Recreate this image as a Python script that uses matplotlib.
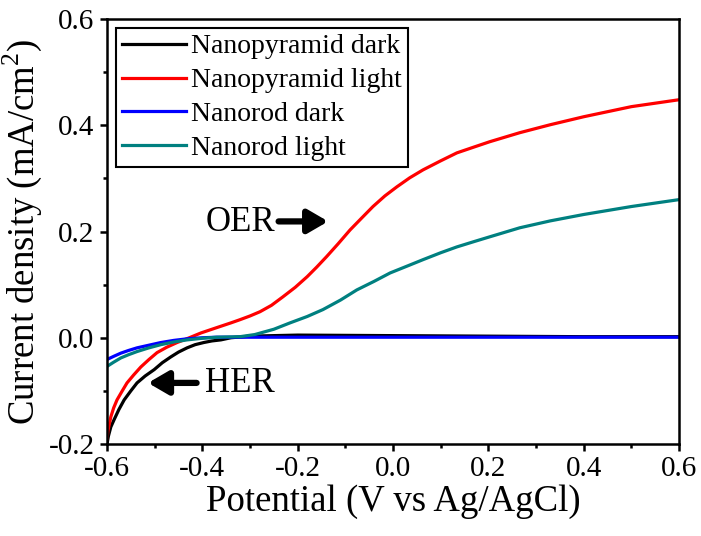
import numpy as np
import matplotlib
matplotlib.use('Agg')
import matplotlib.pyplot as plt
from matplotlib.ticker import MultipleLocator

plt.rcParams['font.family'] = 'serif'
plt.rcParams['font.serif'] = ['Liberation Serif']
plt.rcParams['mathtext.fontset'] = 'custom'
plt.rcParams['mathtext.rm'] = 'Liberation Serif'

## data ##
v_pd = [-0.6, -0.597, -0.592, -0.585, -0.575, -0.564, -0.55, -0.537, -0.52, -0.501, -0.484, -0.466, -0.45, -0.432, -0.415, -0.397, -0.38, -0.361, -0.34, -0.3, -0.2, 0.0, 0.2, 0.4, 0.6]
j_pd = [-0.2, -0.185, -0.168, -0.154, -0.135, -0.117, -0.1, -0.085, -0.072, -0.06, -0.047, -0.036, -0.027, -0.019, -0.013, -0.009, -0.006, -0.004, 0.0, 0.003, 0.005, 0.004, 0.003, 0.002, 0.002]

v_pl = [-0.6, -0.598, -0.592, -0.586, -0.579, -0.568, -0.558, -0.544, -0.529, -0.512, -0.495, -0.475, -0.453, -0.43, -0.403, -0.37, -0.34, -0.321, -0.3, -0.279, -0.255, -0.231, -0.205, -0.18, -0.16, -0.139, -0.115, -0.09, -0.065, -0.042, -0.017, 0.008, 0.035, 0.063, 0.1, 0.134, 0.17, 0.203, 0.266, 0.33, 0.4, 0.5, 0.6]
j_pl = [-0.19, -0.175, -0.149, -0.132, -0.117, -0.1, -0.085, -0.07, -0.055, -0.041, -0.028, -0.018, -0.009, -0.001, 0.009, 0.019, 0.028, 0.034, 0.041, 0.049, 0.061, 0.077, 0.095, 0.115, 0.133, 0.153, 0.177, 0.203, 0.226, 0.247, 0.267, 0.284, 0.301, 0.316, 0.333, 0.348, 0.359, 0.369, 0.386, 0.401, 0.416, 0.435, 0.448]

v_rd = [-0.6, -0.586, -0.571, -0.555, -0.537, -0.512, -0.487, -0.46, -0.432, -0.4, -0.37, -0.33, -0.3, 0.0, 0.3, 0.6]
j_rd = [-0.041, -0.035, -0.029, -0.024, -0.019, -0.014, -0.009, -0.005, -0.002, 0.0, 0.001, 0.001, 0.001, 0.001, 0.001, 0.001]

v_rl = [-0.6, -0.586, -0.571, -0.555, -0.537, -0.512, -0.487, -0.46, -0.432, -0.4, -0.37, -0.321, -0.29, -0.25, -0.216, -0.18, -0.147, -0.11, -0.076, -0.04, -0.006, 0.03, 0.063, 0.1, 0.134, 0.17, 0.203, 0.266, 0.33, 0.4, 0.5, 0.6]
j_rl = [-0.054, -0.046, -0.038, -0.032, -0.026, -0.019, -0.013, -0.008, -0.004, -0.001, 0.001, 0.002, 0.006, 0.016, 0.028, 0.04, 0.053, 0.071, 0.09, 0.106, 0.122, 0.135, 0.147, 0.16, 0.171, 0.181, 0.19, 0.207, 0.22, 0.232, 0.247, 0.26]

x_ticks = [-0.6, -0.4, -0.2, 0.0, 0.2, 0.4, 0.6]
y_ticks = [-0.2, 0.0, 0.2, 0.4, 0.6]

fig = plt.figure(figsize=(7.01, 5.36), dpi=100)
ax = fig.add_axes([107/701, 1-444/536, (679-107)/701, (444-19)/536])

lw = 2.3
ax.plot(v_pd, j_pd, color='black', lw=lw, label='Nanopyramid dark')
ax.plot(v_pl, j_pl, color='#ff0000', lw=lw, label='Nanopyramid light')
ax.plot(v_rd, j_rd, color='#0000ff', lw=lw, label='Nanorod dark')
ax.plot(v_rl, j_rl, color='#008080', lw=lw, label='Nanorod light')

ax.set_xlim(-0.6, 0.6)
ax.set_ylim(-0.2, 0.6)
ax.set_xticks(x_ticks, ['%.1f' % t for t in x_ticks], fontsize=21, fontfamily='Liberation Serif')
ax.set_yticks(y_ticks, ['%.1f' % t for t in y_ticks], fontsize=21, fontfamily='Liberation Serif')
ax.xaxis.set_minor_locator(MultipleLocator(0.1))
ax.yaxis.set_minor_locator(MultipleLocator(0.1))
ax.tick_params(which='both', direction='out', width=1.8, top=False, right=False)
ax.tick_params(which='major', length=5, pad=4)
ax.tick_params(which='minor', length=3)
for s in ax.spines.values():
    s.set_linewidth(1.8)

ax.set_xlabel('Potential (V vs Ag/AgCl)', fontsize=26.5, labelpad=1)
ax.set_ylabel('Current density (mA/cm$^2$)', fontsize=26.5, labelpad=3)

# annotations
arrow = dict(arrowstyle='-|>,head_length=0.55,head_width=0.32', lw=4.5, color='black',
             mutation_scale=22, shrinkA=0, shrinkB=0)
ax.annotate('', xy=(-0.136, 0.219), xytext=(-0.24, 0.219), arrowprops=arrow)
ax.text(-0.394, 0.217, 'OER', fontsize=25, ha='left', va='center')
ax.annotate('', xy=(-0.514, -0.085), xytext=(-0.412, -0.085), arrowprops=arrow)
ax.text(-0.394, -0.087, 'HER', fontsize=25, ha='left', va='center')

leg = ax.legend(loc='upper left', bbox_to_anchor=(0.015, 0.979), fontsize=20, frameon=True,
                fancybox=False, framealpha=1, edgecolor='black', handlelength=2.3,
                handletextpad=0.2, labelspacing=0.3, borderpad=0.22, borderaxespad=0)
leg.get_frame().set_linewidth(1.5)

fig.savefig('out.png', dpi=100)
